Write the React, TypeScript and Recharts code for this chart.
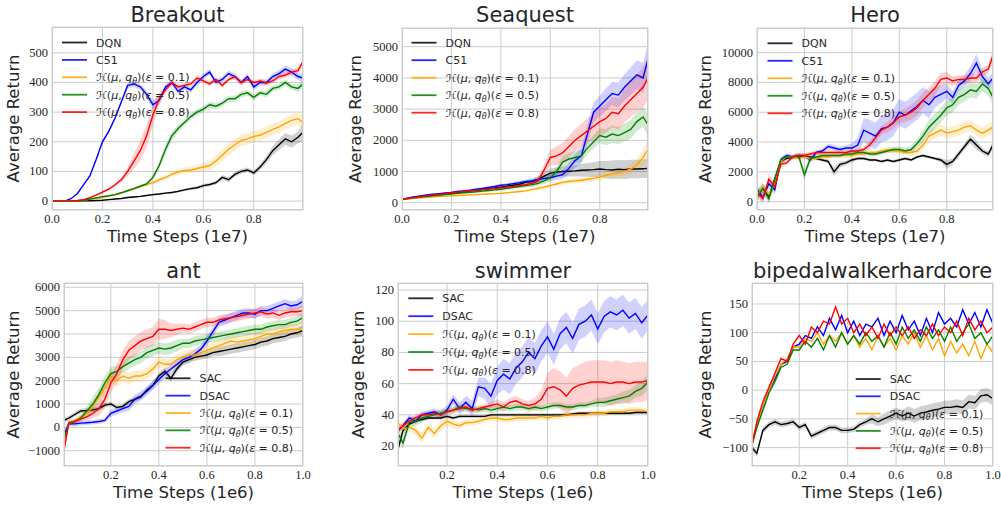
import React from "react";
import { ComposedChart, Line, Area, XAxis, YAxis, CartesianGrid } from "recharts";

const COLORS = ["#000000", "#0000ff", "#ffa500", "#008000", "#ff0000"];
const ATARI_NAMES = ["DQN", "C51"];
const MUJOCO_NAMES = ["SAC", "DSAC"];
const EPSILONS = ["0.1", "0.5", "0.8"];

// x positions (top row in 1e7 steps, bottom row in 1e6 steps)
const STEPS_E7 = [0, 0.025, 0.05, 0.075, 0.1, 0.125, 0.15, 0.175, 0.2, 0.225, 0.25, 0.275, 0.3, 0.325, 0.35, 0.375, 0.4, 0.425, 0.45, 0.475, 0.5, 0.525, 0.55, 0.575, 0.6, 0.625, 0.65, 0.675, 0.7, 0.725, 0.75, 0.775, 0.8, 0.825, 0.85, 0.875, 0.9, 0.925, 0.95, 0.975, 0.995];
const STEPS_E6 = [0.005, 0.025, 0.05, 0.075, 0.1, 0.125, 0.15, 0.175, 0.2, 0.225, 0.25, 0.275, 0.3, 0.325, 0.35, 0.375, 0.4, 0.425, 0.45, 0.475, 0.5, 0.525, 0.55, 0.575, 0.6, 0.625, 0.65, 0.675, 0.7, 0.725, 0.75, 0.775, 0.8, 0.825, 0.85, 0.875, 0.9, 0.925, 0.95, 0.975, 1.0];

// ---- Breakout ----
const BREAKOUT_DQN = [0, 0, 0, 0, 0, 1, 1, 2, 3, 5, 7, 9, 12, 14, 16, 19, 22, 24, 27, 29, 33, 38, 42, 45, 52, 56, 62, 80, 72, 90, 100, 105, 95, 115, 140, 170, 190, 210, 200, 215, 232];
const BREAKOUT_C51 = [0, 0, 0, 8, 25, 55, 85, 140, 200, 235, 280, 335, 390, 395, 385, 360, 325, 340, 385, 400, 370, 385, 375, 400, 420, 435, 400, 410, 430, 420, 400, 420, 385, 400, 400, 420, 430, 445, 435, 420, 415];
const BREAKOUT_E01 = [0, 0, 0, 0, 1, 3, 6, 9, 12, 17, 22, 28, 36, 42, 50, 56, 62, 72, 80, 90, 98, 103, 105, 110, 115, 120, 135, 155, 175, 190, 205, 210, 218, 222, 232, 242, 250, 262, 272, 278, 265];
const BREAKOUT_E05 = [0, 0, 0, 0, 1, 3, 7, 11, 15, 18, 22, 28, 35, 42, 50, 58, 80, 120, 175, 220, 245, 265, 285, 300, 310, 325, 320, 330, 345, 345, 360, 365, 350, 365, 360, 380, 385, 400, 385, 380, 395];
const BREAKOUT_E08 = [0, 0, 0, 0, 2, 5, 12, 20, 30, 40, 55, 72, 100, 135, 170, 220, 290, 345, 375, 400, 385, 390, 395, 415, 405, 395, 410, 390, 410, 420, 400, 410, 400, 405, 398, 405, 420, 425, 435, 440, 470];
const BREAKOUT_DQN_SPREAD = [0, 0, 0, 0, 0, 0, 0, 0, 1, 1, 1, 1, 2, 2, 2, 2, 3, 3, 3, 3, 4, 4, 5, 5, 6, 6, 7, 8, 8, 8, 8, 8, 8, 10, 12, 15, 18, 20, 20, 20, 30];
const BREAKOUT_C51_SPREAD = [0, 0, 0, 1, 2, 3, 4, 5, 6, 6, 6, 8, 10, 10, 10, 12, 15, 15, 10, 10, 10, 10, 10, 10, 10, 10, 10, 10, 10, 10, 10, 10, 10, 10, 10, 10, 12, 12, 12, 12, 15];
const BREAKOUT_E01_SPREAD = [0, 0, 0, 0, 0, 1, 1, 2, 2, 3, 3, 4, 5, 5, 6, 6, 7, 8, 8, 9, 10, 10, 10, 12, 14, 15, 18, 20, 20, 20, 20, 20, 20, 20, 20, 20, 20, 20, 22, 22, 25];
const BREAKOUT_E05_SPREAD = [0, 0, 0, 0, 0, 1, 1, 1, 2, 2, 2, 3, 3, 3, 4, 5, 8, 12, 15, 15, 12, 10, 10, 10, 10, 10, 10, 10, 10, 10, 10, 10, 10, 10, 10, 10, 10, 10, 10, 12, 15];
const BREAKOUT_E08_SPREAD = [0, 0, 0, 0, 0, 1, 2, 3, 4, 5, 6, 8, 15, 25, 35, 40, 35, 20, 10, 8, 8, 8, 8, 8, 8, 8, 8, 8, 8, 8, 8, 8, 8, 8, 8, 8, 10, 10, 10, 10, 12];

// ---- Seaquest ----
const SEAQUEST_DQN = [100, 130, 160, 180, 200, 230, 250, 280, 300, 330, 350, 380, 400, 430, 450, 470, 500, 530, 560, 590, 650, 680, 750, 850, 950, 980, 1000, 1010, 1020, 1040, 1050, 1060, 1080, 1060, 1050, 1070, 1060, 1080, 1080, 1090, 1100];
const SEAQUEST_C51 = [100, 150, 190, 220, 250, 270, 290, 310, 330, 360, 380, 400, 430, 460, 490, 520, 560, 580, 610, 640, 680, 700, 740, 780, 800, 850, 900, 1100, 1350, 1500, 2200, 2900, 3100, 3300, 3500, 3450, 3700, 3900, 4100, 4000, 4600];
const SEAQUEST_E01 = [100, 120, 140, 160, 170, 190, 200, 210, 220, 230, 240, 250, 260, 270, 280, 290, 300, 320, 340, 360, 380, 420, 460, 500, 550, 600, 650, 680, 700, 720, 750, 780, 820, 880, 920, 960, 1000, 1080, 1200, 1450, 1700];
const SEAQUEST_E05 = [100, 130, 160, 180, 200, 220, 240, 260, 280, 300, 320, 330, 350, 370, 390, 410, 430, 460, 490, 520, 550, 580, 620, 700, 800, 1000, 1300, 1400, 1450, 1500, 1750, 1950, 2150, 2100, 2200, 2150, 2250, 2350, 2600, 2750, 2500];
const SEAQUEST_E08 = [100, 140, 170, 200, 220, 250, 270, 290, 320, 340, 360, 380, 400, 420, 440, 460, 480, 500, 520, 550, 580, 620, 700, 1050, 1450, 1500, 1600, 1800, 2000, 2150, 2300, 2450, 2600, 2700, 2900, 2850, 3100, 3300, 3500, 3700, 4000];
const SEAQUEST_DQN_SPREAD = [10, 10, 10, 15, 15, 20, 20, 20, 25, 25, 30, 30, 30, 35, 35, 40, 40, 45, 50, 55, 60, 80, 100, 120, 150, 150, 160, 170, 180, 200, 220, 240, 260, 280, 300, 300, 300, 300, 300, 300, 300];
const SEAQUEST_C51_SPREAD = [20, 20, 20, 20, 20, 25, 25, 25, 30, 30, 30, 35, 35, 40, 40, 45, 50, 50, 55, 60, 60, 70, 80, 90, 100, 120, 150, 180, 220, 260, 300, 320, 340, 360, 380, 400, 420, 440, 460, 480, 500];
const SEAQUEST_E01_SPREAD = [10, 10, 10, 10, 15, 15, 15, 20, 20, 20, 20, 25, 25, 25, 30, 30, 30, 35, 35, 40, 40, 45, 50, 55, 60, 65, 70, 75, 80, 85, 90, 95, 100, 110, 120, 130, 140, 160, 200, 260, 320];
const SEAQUEST_E05_SPREAD = [10, 10, 15, 15, 20, 20, 25, 25, 30, 30, 30, 35, 35, 40, 40, 45, 50, 50, 55, 60, 60, 70, 80, 100, 120, 150, 180, 200, 200, 200, 200, 220, 240, 260, 280, 280, 280, 300, 300, 320, 350];
const SEAQUEST_E08_SPREAD = [10, 10, 15, 15, 20, 20, 25, 25, 30, 30, 30, 35, 35, 40, 40, 45, 50, 50, 55, 60, 70, 90, 120, 180, 250, 300, 320, 340, 360, 380, 400, 420, 440, 460, 480, 500, 520, 560, 600, 650, 700];

// ---- Hero ----
const HERO_DQN = [500, 900, 300, 1500, 2700, 2900, 3000, 3000, 3000, 3000, 2900, 2800, 2700, 2000, 2500, 2600, 2800, 2900, 2900, 2800, 2800, 2700, 2800, 2700, 2800, 2900, 2800, 3000, 3100, 3000, 2900, 2800, 2500, 2700, 3200, 3700, 4200, 3800, 3400, 3200, 3800];
const HERO_C51 = [800, 300, 1200, 800, 2800, 3100, 3000, 3100, 3100, 2800, 3300, 3400, 3700, 3600, 3500, 3600, 3600, 3800, 4800, 4600, 4400, 4900, 5000, 5300, 6000, 5800, 6100, 6400, 6800, 6500, 7000, 7200, 7400, 7000, 7800, 8100, 8600, 9300, 8400, 7900, 8300];
const HERO_E01 = [400, 1000, 500, 1200, 2700, 3000, 3000, 2900, 3000, 2900, 2900, 3000, 3000, 3100, 3100, 3100, 3100, 3200, 3200, 3300, 3300, 3400, 3500, 3400, 3400, 3300, 3300, 3400, 3800, 4400, 4600, 4800, 4600, 4700, 4800, 5000, 5100, 4800, 4600, 4800, 5000];
const HERO_E05 = [300, 900, 200, 1500, 2800, 3000, 3000, 3100, 1800, 2900, 3000, 3100, 3100, 3100, 3100, 3200, 3200, 3300, 3300, 3200, 3200, 3300, 3400, 3500, 3500, 3400, 3500, 3900, 4400, 5000, 5400, 5800, 6300, 6500, 7000, 7200, 7500, 7400, 7900, 7600, 7000];
const HERO_E08 = [600, 200, 1500, 1000, 2500, 2600, 3000, 3100, 3100, 3200, 3300, 3300, 3300, 3300, 3300, 3300, 3400, 3400, 3500, 3800, 4300, 4800, 5000, 5300, 5700, 5800, 6000, 6300, 6800, 7200, 7600, 8200, 8300, 8100, 8200, 8200, 8300, 8300, 8700, 8900, 9800];
const HERO_DQN_SPREAD = [300, 300, 300, 300, 200, 100, 100, 100, 100, 100, 100, 100, 150, 300, 200, 150, 150, 100, 100, 100, 100, 100, 100, 100, 100, 100, 100, 100, 100, 100, 100, 150, 300, 200, 200, 200, 300, 300, 200, 200, 300];
const HERO_C51_SPREAD = [300, 300, 300, 300, 200, 150, 150, 150, 150, 150, 150, 150, 200, 200, 200, 200, 300, 500, 800, 900, 900, 900, 900, 900, 900, 900, 900, 900, 900, 900, 700, 600, 500, 400, 400, 400, 500, 600, 500, 400, 400];
const HERO_E01_SPREAD = [300, 300, 300, 300, 200, 150, 150, 150, 150, 150, 150, 150, 150, 150, 150, 150, 150, 150, 150, 150, 150, 150, 200, 200, 200, 200, 200, 250, 300, 400, 400, 400, 400, 400, 400, 400, 400, 400, 400, 400, 400];
const HERO_E05_SPREAD = [300, 300, 300, 300, 200, 150, 150, 200, 400, 200, 150, 150, 150, 150, 150, 150, 150, 150, 150, 150, 150, 150, 150, 200, 200, 200, 250, 300, 400, 500, 500, 500, 500, 500, 500, 500, 500, 500, 500, 500, 500];
const HERO_E08_SPREAD = [300, 300, 300, 300, 200, 150, 150, 150, 150, 150, 150, 150, 150, 150, 150, 150, 150, 150, 200, 250, 300, 300, 350, 400, 400, 450, 500, 500, 500, 500, 500, 450, 400, 300, 300, 300, 300, 300, 300, 300, 400];

// ---- ant ----
const ANT_SAC = [300, 400, 550, 700, 720, 750, 800, 950, 1000, 850, 900, 1100, 1200, 1300, 1600, 1800, 2200, 2400, 2100, 2500, 2800, 2900, 3000, 3050, 3100, 3200, 3250, 3300, 3350, 3400, 3450, 3500, 3550, 3650, 3700, 3800, 3850, 3900, 4000, 4050, 4150];
const ANT_DSAC = [-300, 150, 150, 180, 200, 220, 250, 300, 600, 700, 800, 900, 1200, 1350, 1550, 1800, 2050, 2300, 2500, 2700, 2900, 3000, 3150, 3350, 3700, 4100, 4500, 4600, 4700, 4800, 4900, 4900, 4850, 5000, 5000, 5100, 5200, 5300, 5200, 5250, 5400];
const ANT_E01 = [-800, 150, 300, 450, 600, 900, 1300, 1700, 2200, 2000, 2200, 2100, 2200, 2200, 2300, 2500, 2800, 2700, 2700, 2900, 3000, 3100, 3100, 3200, 3300, 3400, 3500, 3600, 3700, 3650, 3700, 3750, 3800, 3900, 4000, 4000, 4100, 4150, 4200, 4200, 4300];
const ANT_E05 = [-500, 150, 250, 400, 700, 1000, 1400, 1900, 2300, 2400, 2600, 2750, 2900, 3000, 3200, 3300, 3400, 3350, 3400, 3500, 3600, 3600, 3700, 3750, 3800, 3850, 3900, 3950, 4000, 4050, 4100, 4150, 4200, 4200, 4300, 4350, 4400, 4400, 4500, 4550, 4700];
const ANT_E08 = [-1000, 200, 250, 350, 450, 600, 800, 1200, 1900, 2300, 2900, 3300, 3500, 3700, 3800, 3900, 4200, 4200, 4150, 4200, 4250, 4200, 4300, 4400, 4500, 4500, 4600, 4650, 4700, 4750, 4800, 4850, 4900, 4950, 4850, 4900, 4800, 4900, 4950, 4950, 5000];
const ANT_SAC_SPREAD = [100, 100, 100, 100, 100, 100, 100, 100, 100, 100, 100, 100, 100, 100, 120, 150, 150, 150, 150, 150, 150, 150, 150, 150, 150, 150, 200, 200, 200, 200, 200, 200, 200, 200, 200, 200, 200, 200, 200, 200, 250];
const ANT_DSAC_SPREAD = [200, 100, 100, 100, 100, 100, 100, 100, 150, 150, 150, 200, 200, 200, 200, 200, 200, 200, 200, 200, 200, 200, 200, 200, 200, 200, 200, 200, 200, 200, 200, 200, 200, 200, 200, 200, 200, 200, 200, 200, 250];
const ANT_E01_SPREAD = [300, 100, 100, 100, 150, 200, 250, 300, 300, 250, 250, 250, 250, 250, 250, 250, 250, 250, 250, 250, 250, 250, 250, 250, 250, 250, 250, 250, 250, 250, 250, 250, 250, 250, 250, 250, 250, 250, 250, 250, 250];
const ANT_E05_SPREAD = [300, 100, 100, 150, 200, 300, 300, 300, 300, 250, 250, 250, 250, 250, 250, 250, 250, 250, 250, 250, 200, 200, 200, 200, 200, 200, 200, 200, 200, 200, 200, 200, 200, 200, 200, 200, 200, 200, 200, 200, 250];
const ANT_E08_SPREAD = [300, 100, 100, 100, 150, 200, 300, 400, 400, 400, 400, 400, 400, 400, 400, 400, 450, 400, 300, 250, 200, 200, 200, 200, 200, 200, 200, 200, 200, 200, 200, 200, 200, 200, 200, 200, 200, 200, 200, 200, 250];

// ---- swimmer ----
const SWIM_SAC = [18, 30, 34, 36, 37, 38, 38, 38, 39, 38, 39, 39, 39, 39, 39, 40, 40, 40, 40, 40, 40, 40, 40, 40, 40, 40, 40, 40, 40.5, 41, 41, 41, 41, 41, 41, 41, 41, 41, 41.5, 41.5, 41.5];
const SWIM_DSAC = [30, 33, 38, 36, 40, 41, 42, 40, 43, 50, 44, 48, 44, 58, 57, 52, 62, 66, 63, 70, 74, 80, 76, 84, 90, 82, 92, 96, 89, 98, 100, 104, 95, 103, 106, 104, 107, 102, 105, 99, 104];
const SWIM_E01 = [35, 31, 32, 30, 25, 32, 28, 33, 36, 34, 33, 35, 35, 36, 37, 38, 38, 37, 37, 38, 38, 38, 38, 39, 38, 39, 39, 40, 40, 40, 40, 41, 41, 41, 42, 42, 42, 43, 43, 43, 42];
const SWIM_E05 = [28, 22, 35, 36, 38, 39, 40, 41, 42, 43, 45, 44, 44, 43, 44, 43, 44, 45, 44, 45, 45, 44, 45, 44, 45, 46, 46, 45, 45, 46, 46, 47, 48, 48, 49, 50, 51, 52, 55, 57, 61];
const SWIM_E08 = [30, 33, 36, 38, 40, 40, 41, 40, 42, 43, 44, 45, 43, 44, 45, 46, 47, 45, 48, 49, 47, 46, 47, 50, 57, 58, 56, 52, 57, 59, 60, 61, 61, 61, 60, 61, 61, 60, 61, 61, 62];
const SWIM_SAC_SPREAD = [3, 2, 1, 1, 1, 1, 1, 1, 1, 1, 1, 1, 1, 1, 1, 1, 1, 1, 1, 1, 1, 1, 1, 1, 1, 1, 1, 1, 1, 1, 1, 1, 1, 1, 1, 1, 1, 1, 1, 1, 1];
const SWIM_DSAC_SPREAD = [2, 2, 2, 2, 2, 2, 2, 3, 3, 3, 4, 4, 5, 6, 7, 8, 9, 10, 10, 10, 10, 10, 10, 10, 10, 10, 10, 10, 10, 10, 10, 10, 10, 10, 10, 10, 10, 10, 10, 10, 10];
const SWIM_E01_SPREAD = [3, 3, 3, 3, 3, 3, 3, 3, 3, 3, 2, 2, 2, 2, 2, 2, 2, 2, 2, 2, 2, 2, 2, 2, 2, 2, 2, 2, 2, 2, 2, 2, 2, 2, 2, 2, 2, 2, 2, 2, 2];
const SWIM_E05_SPREAD = [4, 4, 3, 3, 3, 2, 2, 2, 2, 2, 2, 2, 2, 2, 2, 2, 2, 2, 2, 2, 2, 2, 2, 2, 2, 2, 2, 2, 2, 2, 2, 2, 3, 3, 3, 3, 4, 4, 4, 5, 5];
const SWIM_E08_SPREAD = [2, 2, 2, 2, 2, 2, 2, 2, 2, 2, 2, 2, 2, 2, 2, 2, 3, 3, 3, 3, 3, 3, 4, 6, 10, 12, 12, 12, 13, 13, 14, 14, 14, 14, 14, 14, 13, 13, 13, 13, 12];

// ---- bipedalwalkerhardcore ----
const BIPED_SAC = [-100, -110, -70, -60, -55, -60, -58, -55, -65, -60, -80, -75, -70, -65, -65, -70, -70, -68, -60, -55, -50, -55, -50, -45, -40, -45, -40, -45, -40, -38, -35, -33, -30, -30, -28, -30, -20, -22, -10, -8, -15];
const BIPED_DSAC = [-95, -60, -30, 0, 20, 45, 50, 75, 80, 95, 90, 110, 95, 125, 105, 130, 100, 120, 95, 115, 110, 125, 95, 120, 100, 130, 105, 120, 95, 125, 100, 135, 115, 125, 110, 140, 115, 135, 110, 140, 115];
const BIPED_E01 = [-95, -60, -30, 0, 25, 45, 55, 75, 75, 90, 85, 100, 80, 95, 85, 100, 80, 95, 75, 90, 70, 95, 75, 90, 70, 95, 80, 100, 75, 95, 70, 90, 60, 85, 65, 80, 60, 85, 55, 80, 65];
const BIPED_E05 = [-95, -65, -35, -5, 15, 40, 45, 70, 70, 85, 75, 90, 70, 95, 75, 100, 80, 95, 80, 100, 85, 95, 75, 100, 80, 110, 90, 105, 85, 110, 90, 105, 85, 110, 85, 100, 115, 90, 100, 80, 95];
const BIPED_E08 = [-95, -55, -20, 5, 30, 55, 50, 80, 95, 80, 110, 100, 120, 115, 145, 115, 125, 100, 115, 95, 110, 90, 115, 95, 110, 95, 110, 90, 105, 95, 115, 95, 110, 100, 120, 95, 125, 105, 120, 100, 110];
const BIPED_SAC_SPREAD = [5, 5, 5, 5, 5, 5, 5, 5, 5, 5, 5, 5, 5, 5, 5, 5, 5, 5, 5, 5, 8, 8, 10, 10, 10, 10, 12, 12, 12, 12, 12, 12, 12, 12, 12, 12, 12, 12, 12, 12, 12];

const TICKS_E7 = [0, 0.2, 0.4, 0.6, 0.8];
const TICKS_E6 = [0.2, 0.4, 0.6, 0.8, 1.0];

const PANELS = [
  {
    title: "Breakout", unit: "1e7", names: ATARI_NAMES, steps: STEPS_E7, xTicks: TICKS_E7, xDomain: [0, 0.995],
    series: [BREAKOUT_DQN, BREAKOUT_C51, BREAKOUT_E01, BREAKOUT_E05, BREAKOUT_E08],
    spreads: [BREAKOUT_DQN_SPREAD, BREAKOUT_C51_SPREAD, BREAKOUT_E01_SPREAD, BREAKOUT_E05_SPREAD, BREAKOUT_E08_SPREAD],
    yTicks: [0, 100, 200, 300, 400, 500], yDomain: [-30, 587],
    box: [52, 27, 303, 210], legend: { x: 62, y: 42.5, step: 17.4 }, yLabelX: 19, row: 0,
  },
  {
    title: "Seaquest", unit: "1e7", names: ATARI_NAMES, steps: STEPS_E7, xTicks: TICKS_E7, xDomain: [0, 0.995],
    series: [SEAQUEST_DQN, SEAQUEST_C51, SEAQUEST_E01, SEAQUEST_E05, SEAQUEST_E08],
    spreads: [SEAQUEST_DQN_SPREAD, SEAQUEST_C51_SPREAD, SEAQUEST_E01_SPREAD, SEAQUEST_E05_SPREAD, SEAQUEST_E08_SPREAD],
    yTicks: [0, 1000, 2000, 3000, 4000, 5000], yDomain: [-234, 5600],
    box: [402, 28, 648, 210], legend: { x: 411.5, y: 42.7, step: 17.5 }, yLabelX: 361, row: 0,
  },
  {
    title: "Hero", unit: "1e7", names: ATARI_NAMES, steps: STEPS_E7, xTicks: TICKS_E7, xDomain: [0, 0.995],
    series: [HERO_DQN, HERO_C51, HERO_E01, HERO_E05, HERO_E08],
    spreads: [HERO_DQN_SPREAD, HERO_C51_SPREAD, HERO_E01_SPREAD, HERO_E05_SPREAD, HERO_E08_SPREAD],
    yTicks: [0, 2000, 4000, 6000, 8000, 10000], yDomain: [-557, 11650],
    box: [757, 28, 993, 210], legend: { x: 767.5, y: 43.3, step: 17.5 }, yLabelX: 711, row: 0,
  },
  {
    title: "ant", unit: "1e6", names: MUJOCO_NAMES, steps: STEPS_E6, xTicks: TICKS_E6, xDomain: [0.005, 1.0],
    series: [ANT_SAC, ANT_DSAC, ANT_E01, ANT_E05, ANT_E08],
    spreads: [ANT_SAC_SPREAD, ANT_DSAC_SPREAD, ANT_E01_SPREAD, ANT_E05_SPREAD, ANT_E08_SPREAD],
    yTicks: [-1000, 0, 1000, 2000, 3000, 4000, 5000, 6000], yDomain: [-1656, 6184],
    box: [64, 283, 303, 466], legend: { x: 165.5, y: 378.3, step: 17.35 }, yLabelX: 19, row: 1,
  },
  {
    title: "swimmer", unit: "1e6", names: MUJOCO_NAMES, steps: STEPS_E6, xTicks: TICKS_E6, xDomain: [0.005, 1.0],
    series: [SWIM_SAC, SWIM_DSAC, SWIM_E01, SWIM_E05, SWIM_E08],
    spreads: [SWIM_SAC_SPREAD, SWIM_DSAC_SPREAD, SWIM_E01_SPREAD, SWIM_E05_SPREAD, SWIM_E08_SPREAD],
    yTicks: [20, 40, 60, 80, 100, 120], yDomain: [7.2, 124.5],
    box: [398, 283, 648, 466], legend: { x: 408.3, y: 298.3, step: 17.9 }, yLabelX: 363.5, row: 1,
  },
  {
    title: "bipedalwalkerhardcore", unit: "1e6", names: MUJOCO_NAMES, steps: STEPS_E6, xTicks: TICKS_E6, xDomain: [0.005, 1.0],
    series: [BIPED_SAC, BIPED_DSAC, BIPED_E01, BIPED_E05, BIPED_E08],
    spreads: [BIPED_SAC_SPREAD, null, null, null, null],
    yTicks: [-100, -50, 0, 50, 100, 150], yDomain: [-132, 186.5],
    box: [752, 283, 993, 466], legend: { x: 855.7, y: 379, step: 17.3 }, yLabelX: 711, row: 1,
  },
];

const YW = 60;
const XH = 30;
const TOP = 5;
const RIGHT = 12;
const SERIF = "'Liberation Serif', 'Times New Roman', 'DejaVu Serif', serif";
const SANS = "DejaVu Sans";
const INK = "#262626";

const fmtY = (v: number) => String(v).replace("-", "\u2212");

const XTick = (props: any) => (
  <text x={props.x} y={props.y} dy={9} textAnchor="middle" fontFamily={SERIF} style={{ fontFamily: SERIF }} fontSize={12.5} fill={INK}>
    {Number(props.payload.value).toFixed(1)}
  </text>
);

const YTick = (props: any) => (
  <text x={props.x} y={props.y} dy={4} textAnchor="end" fontFamily={SERIF} style={{ fontFamily: SERIF }} fontSize={12.5} fill={INK}>
    {fmtY(props.payload.value)}
  </text>
);

function Panel({ p }: { p: any }) {
  const [x0, y0, x1, y1] = p.box;
  const rows = p.steps.map((x: number, i: number) => {
    const row: any = { x };
    p.series.forEach((s: number[], k: number) => {
      row["s" + k] = s[i];
      const sp = p.spreads[k];
      if (sp) row["b" + k] = [s[i] - sp[i], s[i] + sp[i]];
    });
    return row;
  });
  return (
    <div style={{ position: "absolute", left: x0 - YW, top: y0 - TOP, fontFamily: SERIF }}>
      <ComposedChart
        width={x1 - x0 + YW + RIGHT}
        height={y1 - y0 + TOP + XH}
        data={rows}
        margin={{ top: TOP, right: RIGHT, left: 0, bottom: 0 }}
      >
        <CartesianGrid stroke="#cccccc" strokeWidth={1} />
        <XAxis
          type="number"
          dataKey="x"
          domain={p.xDomain}
          ticks={p.xTicks}
          allowDataOverflow
          interval={0}
          height={XH}
          tickLine={false}
          axisLine={false}
          tickSize={0}
          tickMargin={4}
          tick={<XTick />}
        />
        <YAxis
          type="number"
          domain={p.yDomain}
          ticks={p.yTicks}
          allowDataOverflow
          interval={0}
          width={YW}
          tickLine={false}
          axisLine={false}
          tickSize={0}
          tickMargin={4}
          tick={<YTick />}
        />
        {p.series.map((_: any, k: number) =>
          p.spreads[k] ? (
            <Area
              key={"b" + k}
              type="linear"
              dataKey={"b" + k}
              stroke="none"
              fill={COLORS[k]}
              fillOpacity={0.18}
              isAnimationActive={false}
            />
          ) : null
        )}
        {p.series.map((_: any, k: number) => (
          <Line
            key={"s" + k}
            type="linear"
            dataKey={"s" + k}
            stroke={COLORS[k]}
            strokeWidth={1.4}
            dot={false}
            isAnimationActive={false}
          />
        ))}
      </ComposedChart>
    </div>
  );
}

function EpsLabel({ x, y, eps }: { x: number; y: number; eps: string }) {
  return (
    <text x={x} y={y} fontFamily={SANS} fontSize={11} fill={INK}>
      <tspan>{"\u210B("}</tspan>
      <tspan fontStyle="italic">{"\u03BC"}</tspan>
      <tspan>{", "}</tspan>
      <tspan fontStyle="italic">q</tspan>
      <tspan fontStyle="italic" fontSize={8} dy={2.5}>{"\u03B8"}</tspan>
      <tspan dy={-2.5}>{")("}</tspan>
      <tspan fontStyle="italic">{"\u03B5"}</tspan>
      <tspan>{" = " + eps + ")"}</tspan>
    </text>
  );
}

function Overlay({ p }: { p: any }) {
  const [x0, y0, x1, y1] = p.box;
  const cx = (x0 + x1) / 2;
  const cy = (y0 + y1) / 2;
  const titleY = p.row === 0 ? 22 : 278;
  const xLabelY = p.row === 0 ? 242 : 498;
  const L = p.legend;
  const labels = [...p.names, ...EPSILONS];
  return (
    <g>
      <rect x={x0 + 0.5} y={y0 + 0.5} width={x1 - x0 - 1} height={y1 - y0 - 1} fill="none" stroke="#cccccc" strokeWidth={1} />
      <text x={cx} y={titleY} textAnchor="middle" fontFamily={SANS} fontSize={21} fill={INK}>
        {p.title}
      </text>
      <text x={cx} y={xLabelY} textAnchor="middle" fontFamily={SANS} fontSize={16.5} fill={INK}>
        {"Time Steps (" + p.unit + ")"}
      </text>
      <text
        transform={`translate(${p.yLabelX},${cy}) rotate(-90)`}
        textAnchor="middle"
        fontFamily={SANS}
        fontSize={16.5}
        fill={INK}
      >
        Average Return
      </text>
      {labels.map((lab, k) => {
        const ry = L.y + k * L.step;
        return (
          <g key={k}>
            <line x1={L.x} x2={L.x + 25} y1={ry} y2={ry} stroke={COLORS[k]} strokeWidth={1.8} strokeOpacity={0.85} />
            {k < 2 ? (
              <text x={L.x + 34} y={ry + 4} fontFamily={SANS} fontSize={11} fill={INK}>
                {lab}
              </text>
            ) : (
              <EpsLabel x={L.x + 34} y={ry + 4} eps={lab} />
            )}
          </g>
        );
      })}
    </g>
  );
}

export default function App() {
  return (
    <div style={{ position: "absolute", left: 0, top: 0, width: 1001, height: 506, background: "#ffffff", overflow: "hidden" }}>
      {PANELS.map((p) => (
        <Panel key={p.title} p={p} />
      ))}
      <svg width={1001} height={506} style={{ position: "absolute", left: 0, top: 0, pointerEvents: "none" }}>
        {PANELS.map((p) => (
          <Overlay key={p.title} p={p} />
        ))}
      </svg>
    </div>
  );
}
